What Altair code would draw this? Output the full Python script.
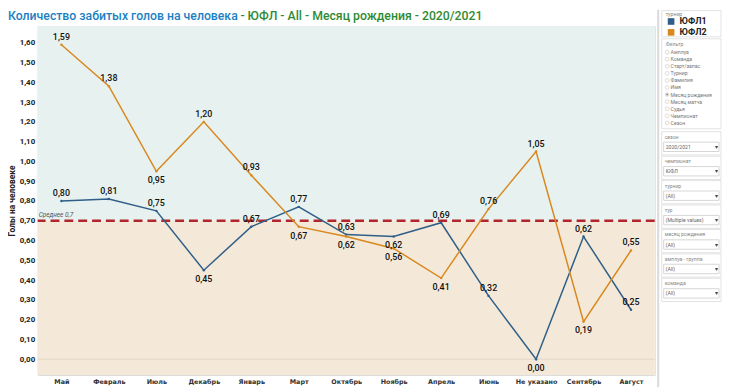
import altair as alt
import pandas as pd

months = ["Май", "Февраль", "Июль", "Декабрь", "Январь", "Март", "Октябрь",
          "Ноябрь", "Апрель", "Июнь", "Не указано", "Сентябрь", "Август"]
yufl1 = [0.80, 0.81, 0.75, 0.45, 0.67, 0.77, 0.63, 0.62, 0.69, 0.32, 0.00, 0.62, 0.25]
yufl2 = [1.59, 1.38, 0.95, 1.20, 0.93, 0.67, 0.62, 0.56, 0.41, 0.76, 1.05, 0.19, 0.55]
series = ["ЮФЛ1", "ЮФЛ2"]
average = 0.7
y_ticks = [0.0, 0.1, 0.2, 0.3, 0.4, 0.5, 0.6, 0.7, 0.8, 0.9, 1.0, 1.1, 1.2, 1.3, 1.4, 1.5, 1.6]

title_main = "Количество забитых голов на человека"
title_rest = "- ЮФЛ - All - Месяц рождения - 2020/2021"
y_title = "Голы на человеке"
avg_label = "Среднее 0,7"
legend_title = "турнир"

filter_options = ["Амплуа", "Команда", "Старт/запас", "Турнир", "Фамилия", "Имя",
                  "Месяц рождения", "Месяц матча", "Судья", "Чемпионат", "Сезон"]
selected_option = "Месяц рождения"
dropdowns = [("сезон", "2020/2021"), ("чемпионат", "ЮФЛ"), ("турнир", "(All)"),
             ("тур", "(Multiple values)"), ("месяц рождения", "(All)"),
             ("амплуа - группа", "(All)"), ("команда", "(All)")]

BLUE = "#2f5f88"
ORANGE = "#d8881e"
W, H = 624, 353
Y_DOMAIN = [-0.08, 1.685]
OX, OY = 38, 24  # plot origin inside the page (page margin + padding)

# ---- data table -------------------------------------------------------
rows = []
vals = {"ЮФЛ1": yufl1, "ЮФЛ2": yufl2}
for s in series:
    other = vals["ЮФЛ2" if s == "ЮФЛ1" else "ЮФЛ1"]
    v = vals[s]
    for i, m in enumerate(months):
        prev_v = v[i - 1] if i > 0 else None
        next_v = v[i + 1] if i < len(v) - 1 else None
        local_min = prev_v is not None and next_v is not None and v[i] < prev_v and v[i] < next_v
        close_below = v[i] < other[i] and (other[i] - v[i]) < 0.15
        rows.append({"month": m, "series": s, "value": v[i],
                     "label": f"{v[i]:.2f}".replace(".", ","),
                     "below": bool(local_min or close_below)})
df = pd.DataFrame(rows)

x_enc = alt.X("month:N", sort=months, scale=alt.Scale(type="point", padding=0.5),
              axis=alt.Axis(title=None, labelAngle=0, labelFontSize=6.5, labelFontWeight="bold",
                            labelColor="#333333", ticks=False, domain=False, labelPadding=4,
                            labelFont="DejaVu Sans", labelOverlap=False))
y_scale = alt.Scale(domain=Y_DOMAIN, nice=False, zero=False)
y_axis = alt.Axis(values=y_ticks, grid=False, ticks=False, domain=False,
                  labelExpr="replace(format(datum.value, '.2f'), '.', ',')",
                  labelOverlap=False, labelFlush=False,
                  labelFontSize=8, labelFontWeight="bold", labelColor="#222222",
                  labelPadding=3, titleFontSize=8.5, titleFontWeight="bold",
                  titleColor="#222222", titlePadding=3, titleFont="Roboto",
                  labelFont="Roboto")
y_enc = alt.Y("value:Q", scale=y_scale, title=y_title, axis=y_axis)
color_enc = alt.Color("series:N", scale=alt.Scale(domain=series, range=[BLUE, ORANGE]),
                      legend=alt.Legend(title=None, orient="none", legendX=674 - OX,
                                        legendY=15 - OY, symbolType="square", symbolSize=45,
                                        symbolStrokeWidth=0, labelFontSize=9,
                                        labelFontWeight="bold", labelColor="#222222",
                                        labelFont="Roboto", rowPadding=1, padding=0))

# ---- backgrounds -------------------------------------------------------
bands = pd.DataFrame({"value": [average, Y_DOMAIN[0]], "value2": [Y_DOMAIN[1], average],
                      "zone": ["up", "down"]})
band_up = alt.Chart(bands).mark_rect(color="#e7f1ef").encode(
    y=y_enc, y2="value2:Q").transform_filter("datum.zone == 'up'")
band_down = alt.Chart(bands).mark_rect(color="#f4e9d8").encode(
    y=y_enc, y2="value2:Q").transform_filter("datum.zone == 'down'")

avg_df = pd.DataFrame({"value": [average], "txt": [avg_label]})
zero_df = pd.DataFrame({"value": [0.0]})
zero_rule = alt.Chart(zero_df).mark_rule(color="#e3d9c8", strokeWidth=1).encode(y=y_enc)
avg_rule = alt.Chart(avg_df).mark_rule(color="#b0262c", strokeWidth=2.5,
                                       strokeDash=[9, 5]).encode(y=y_enc)
avg_text = alt.Chart(avg_df).mark_text(align="left", baseline="bottom", dy=-3, fontSize=6.5,
                                       fontStyle="italic", color="#555555",
                                       font="Roboto").encode(
    y=y_enc, x=alt.value(1), text="txt:N")

lines = alt.Chart(df).mark_line(strokeWidth=1.5).encode(x=x_enc, y=y_enc, color=color_enc)
dots = alt.Chart(df).mark_point(filled=True, size=6, opacity=1).encode(
    x=x_enc, y=y_enc, color=alt.Color("series:N", legend=None))
lab_up = alt.Chart(df).mark_text(baseline="middle", dy=-8, fontSize=9, fontWeight=500,
                                 color="#111111", font="Roboto").encode(
    x=x_enc, y=y_enc, text="label:N"
).transform_filter("!datum.below")
lab_down = alt.Chart(df).mark_text(baseline="middle", dy=9, fontSize=9, fontWeight=500,
                                   color="#111111", font="Roboto").encode(
    x=x_enc, y=y_enc, text="label:N"
).transform_filter("datum.below")

# ---- title and side panel (page decoration) ----------------------------
one = pd.DataFrame({"k": [0]})


def txt(s, X, Y, size, color, align="left", weight="normal", baseline="middle"):
    return alt.Chart(one).mark_text(align=align, baseline=baseline, fontSize=size,
                                    fontWeight=weight, color=color, font="Roboto").encode(
        x=alt.value(X - OX), y=alt.value(Y - OY), text=alt.value(s))


def box(x1, y1, x2, y2, stroke="#e2e2e2", fill="#ffffff"):
    return alt.Chart(one).mark_rect(fill=fill, stroke=stroke, strokeWidth=1).encode(
        x=alt.value(x1 - OX), x2=alt.value(x2 - OX), y=alt.value(y1 - OY), y2=alt.value(y2 - OY))


deco = [
    txt(title_main, 8, 18, 12.4, "#1b7fc3", weight=500, baseline="alphabetic"),
    txt(title_rest, 243, 18, 12.4, "#2e8b33", weight=500, baseline="alphabetic"),
    box(665, 8, 666, 389, stroke="#dadada", fill="#dadada"),
    box(669, 8.5, 729, 35),
    txt(legend_title, 673, 12, 5.2, "#888888"),
    box(669, 37, 729, 128),
    txt("Фильтр", 673, 42, 5.2, "#888888"),
]
for i, opt in enumerate(filter_options):
    yy = 50.5 + i * 7.15
    deco.append(alt.Chart(one).mark_point(shape="circle", size=14, filled=False,
                                          color="#bbbbbb", strokeWidth=0.7).encode(
        x=alt.value(674.5 - OX), y=alt.value(yy - OY)))
    if opt == selected_option:
        deco.append(alt.Chart(one).mark_point(shape="circle", size=4, filled=True,
                                              color="#555555").encode(
            x=alt.value(674.5 - OX), y=alt.value(yy - OY)))
    deco.append(txt(opt, 678, yy, 5.2, "#777777"))
for j, (name, value) in enumerate(dropdowns):
    top = 131 + j * 24.7
    deco.append(box(669, top, 729, top + 23.5))
    deco.append(txt(name, 672, top + 5, 5.2, "#888888"))
    deco.append(box(671, top + 10.5, 727, top + 20, stroke="#d6d6d6"))
    deco.append(txt(value, 673, top + 15.3, 5.2, "#666666"))
    deco.append(txt("▾", 724, top + 15.3, 6, "#444444", align="center"))

chart = alt.layer(band_up, band_down, zero_rule, avg_rule, avg_text, lines, dots,
                  lab_up, lab_down, *deco).properties(
    width=W, height=H, autosize=alt.AutoSizeParams(type="none"),
    padding={"left": 30, "top": 16, "right": 68, "bottom": 12}
).configure_view(stroke=None).configure(background="#ffffff")

chart.save("out.html", embed_options={"renderer": "svg", "actions": False})
